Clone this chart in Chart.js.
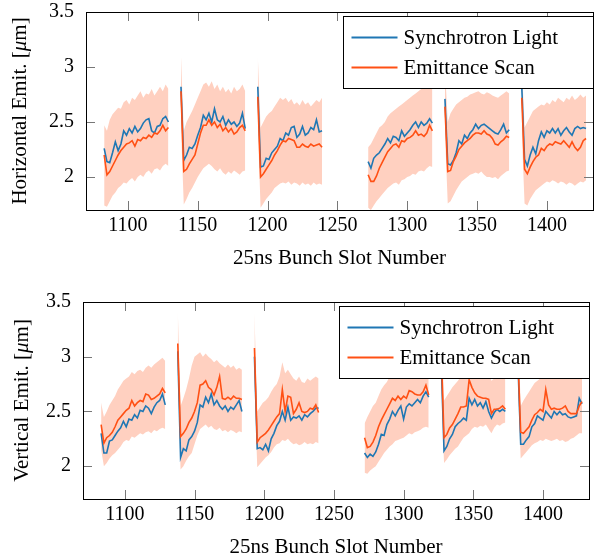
<!DOCTYPE html>
<html>
<head>
<meta charset="utf-8">
<script src="https://cdn.jsdelivr.net/npm/chart.js@4.4.1/dist/chart.umd.min.js"></script>
<style>
  html, body { margin: 0; padding: 0; background: #fff; }
  canvas { display: block; }
</style>
</head>
<body>
<canvas id="hChart" width="598" height="280"></canvas>
<canvas id="vChart" width="598" height="280"></canvas>
<script>
// bunch trains: first slot of each train, values are read every 2nd slot
const trainStarts = [1083, 1138, 1193, 1272, 1327, 1382];
const slotStep = 2;
const xTicks = [1100, 1150, 1200, 1250, 1300, 1350, 1400];
const yTicks = [2, 2.5, 3, 3.5];
const seriesNames = ['Synchrotron Light', 'Emittance Scan'];

// horizontal emittance [um]
const hSync = [
  [2.26,2.14,2.13,2.22,2.32,2.24,2.30,2.42,2.38,2.44,2.40,2.46,2.41,2.44,2.49,2.52,2.53,2.42,2.40,2.46,2.47,2.53,2.55,2.50],
  [2.82,2.15,2.20,2.27,2.26,2.30,2.38,2.45,2.56,2.52,2.58,2.50,2.62,2.52,2.50,2.55,2.47,2.52,2.48,2.50,2.46,2.49,2.58,2.44],
  [2.82,2.09,2.10,2.17,2.16,2.22,2.25,2.28,2.35,2.33,2.40,2.38,2.45,2.46,2.36,2.39,2.46,2.38,2.40,2.45,2.43,2.52,2.41,2.42],
  [2.14,2.08,2.17,2.20,2.22,2.26,2.30,2.35,2.31,2.37,2.36,2.33,2.42,2.37,2.40,2.43,2.47,2.50,2.45,2.50,2.47,2.49,2.53,2.49],
  [2.71,2.12,2.11,2.15,2.22,2.33,2.30,2.38,2.35,2.40,2.43,2.48,2.44,2.47,2.48,2.46,2.44,2.42,2.40,2.39,2.43,2.48,2.40,2.43],
  [2.82,2.16,2.10,2.20,2.27,2.21,2.33,2.41,2.36,2.42,2.40,2.44,2.40,2.44,2.38,2.42,2.45,2.41,2.38,2.44,2.46,2.44,2.45,2.44]
];
const hScan = [
  [2.20,2.02,2.05,2.10,2.15,2.20,2.24,2.27,2.30,2.31,2.33,2.28,2.34,2.33,2.36,2.35,2.38,2.36,2.40,2.39,2.42,2.47,2.42,2.45],
  [2.78,2.05,2.07,2.12,2.16,2.20,2.30,2.40,2.47,2.47,2.52,2.47,2.50,2.45,2.48,2.42,2.45,2.41,2.44,2.39,2.41,2.45,2.47,2.42],
  [2.73,2.00,2.03,2.07,2.11,2.15,2.20,2.24,2.29,2.33,2.32,2.35,2.34,2.33,2.27,2.27,2.30,2.28,2.27,2.30,2.28,2.29,2.30,2.27],
  [2.02,1.96,1.96,2.01,2.08,2.13,2.18,2.23,2.26,2.29,2.30,2.27,2.33,2.32,2.35,2.36,2.38,2.42,2.38,2.39,2.37,2.40,2.47,2.42],
  [2.64,2.05,2.06,2.14,2.19,2.25,2.28,2.31,2.33,2.35,2.38,2.40,2.40,2.39,2.42,2.39,2.38,2.35,2.30,2.29,2.32,2.34,2.37,2.36],
  [2.72,2.07,2.03,2.09,2.14,2.18,2.20,2.26,2.24,2.28,2.30,2.29,2.32,2.31,2.30,2.33,2.30,2.27,2.32,2.27,2.24,2.27,2.33,2.35]
];
const hBandHi = [
  [2.47,2.42,2.52,2.57,2.60,2.63,2.62,2.68,2.70,2.66,2.72,2.70,2.74,2.78,2.72,2.76,2.75,2.80,2.74,2.78,2.82,2.78,2.84,2.80],
  [3.10,2.42,2.50,2.55,2.60,2.66,2.72,2.78,2.84,2.86,2.82,2.87,2.80,2.84,2.78,2.82,2.77,2.80,2.76,2.82,2.78,2.80,2.84,2.78],
  [3.10,2.45,2.50,2.55,2.58,2.60,2.64,2.68,2.72,2.70,2.72,2.68,2.71,2.66,2.68,2.65,2.70,2.66,2.68,2.64,2.67,2.70,2.68,2.72],
  [2.27,2.30,2.35,2.40,2.45,2.47,2.50,2.55,2.58,2.60,2.62,2.64,2.66,2.68,2.70,2.72,2.74,2.76,2.78,2.80,2.82,2.85,2.88,2.85],
  [3.00,2.50,2.58,2.62,2.66,2.68,2.70,2.72,2.73,2.75,2.76,2.77,2.78,2.76,2.75,2.77,2.76,2.74,2.73,2.72,2.74,2.76,2.78,2.76],
  [3.05,2.45,2.50,2.55,2.60,2.62,2.64,2.66,2.65,2.68,2.66,2.70,2.68,2.72,2.70,2.68,2.72,2.70,2.74,2.70,2.72,2.75,2.72,2.74]
];
const hBandLo = [
  [1.74,1.73,1.78,1.83,1.86,1.90,1.92,1.95,1.94,1.97,1.99,1.96,2.00,2.02,2.00,2.04,2.06,2.03,2.07,2.08,2.06,2.10,2.12,2.10],
  [2.45,1.75,1.80,1.86,1.90,1.95,2.00,2.04,2.08,2.10,2.12,2.10,2.07,2.05,2.08,2.04,2.02,2.05,2.03,2.06,2.04,2.02,2.05,2.06],
  [2.45,1.72,1.76,1.80,1.83,1.86,1.90,1.92,1.94,1.95,1.94,1.96,1.93,1.95,1.94,1.92,1.95,1.93,1.94,1.92,1.95,1.93,1.94,1.93],
  [1.72,1.70,1.74,1.78,1.81,1.84,1.87,1.90,1.92,1.94,1.95,1.93,1.97,1.98,2.00,2.01,2.03,2.02,2.05,2.06,2.05,2.08,2.10,2.09],
  [2.40,1.76,1.78,1.83,1.88,1.92,1.96,1.98,2.00,2.02,2.03,2.04,2.03,2.05,2.02,2.00,2.00,1.99,2.00,1.98,2.01,2.03,2.05,2.06],
  [2.40,1.76,1.74,1.80,1.84,1.88,1.90,1.92,1.94,1.96,1.95,1.97,1.96,1.94,1.96,1.95,1.93,1.95,1.94,1.92,1.94,1.96,1.95,1.97]
];

// vertical emittance [um]
const vSync = [
  [2.30,2.12,2.12,2.23,2.24,2.28,2.32,2.35,2.41,2.36,2.43,2.42,2.47,2.44,2.51,2.50,2.55,2.53,2.48,2.54,2.58,2.60,2.66,2.56],
  [3.05,2.08,2.16,2.14,2.24,2.27,2.32,2.40,2.56,2.54,2.63,2.58,2.66,2.56,2.60,2.55,2.52,2.55,2.50,2.54,2.52,2.56,2.60,2.50],
  [3.00,2.16,2.17,2.15,2.20,2.14,2.25,2.30,2.37,2.41,2.50,2.42,2.54,2.42,2.45,2.44,2.46,2.42,2.47,2.45,2.48,2.50,2.53,2.53],
  [2.12,2.08,2.11,2.09,2.13,2.20,2.29,2.28,2.38,2.43,2.50,2.46,2.51,2.55,2.43,2.54,2.57,2.55,2.58,2.61,2.58,2.64,2.68,2.63],
  [2.95,2.14,2.18,2.25,2.29,2.36,2.39,2.41,2.44,2.42,2.62,2.56,2.61,2.55,2.58,2.53,2.59,2.50,2.44,2.49,2.52,2.50,2.52,2.50],
  [2.95,2.20,2.20,2.24,2.27,2.36,2.39,2.46,2.44,2.42,2.50,2.47,2.44,2.50,2.47,2.50,2.47,2.48,2.45,2.44,2.45,2.46,2.62,2.57]
];
const vScan = [
  [2.38,2.21,2.26,2.28,2.31,2.36,2.42,2.45,2.48,2.51,2.53,2.60,2.55,2.58,2.60,2.59,2.66,2.65,2.61,2.62,2.64,2.66,2.71,2.67],
  [3.12,2.27,2.30,2.34,2.40,2.44,2.50,2.58,2.74,2.75,2.78,2.72,2.70,2.65,2.72,2.82,2.62,2.61,2.63,2.61,2.64,2.62,2.62,2.61],
  [3.08,2.22,2.26,2.28,2.30,2.33,2.37,2.41,2.45,2.48,2.70,2.50,2.64,2.63,2.48,2.52,2.58,2.50,2.49,2.50,2.53,2.52,2.56,2.49],
  [2.26,2.17,2.18,2.22,2.28,2.36,2.42,2.47,2.52,2.57,2.62,2.60,2.64,2.61,2.64,2.62,2.69,2.68,2.66,2.65,2.65,2.68,2.74,2.65],
  [3.05,2.26,2.29,2.35,2.38,2.43,2.48,2.54,2.54,2.55,2.79,2.72,2.67,2.64,2.63,2.62,2.62,2.61,2.48,2.52,2.52,2.53,2.55,2.52],
  [3.00,2.31,2.30,2.33,2.36,2.42,2.47,2.49,2.52,2.50,2.70,2.56,2.52,2.53,2.52,2.52,2.53,2.55,2.50,2.48,2.48,2.48,2.55,2.59]
];
const vBandHi = [
  [2.58,2.45,2.50,2.56,2.60,2.64,2.70,2.74,2.78,2.80,2.82,2.86,2.84,2.87,2.88,2.86,2.90,2.92,2.90,2.93,2.95,2.97,2.99,2.96],
  [3.42,2.55,2.62,2.70,2.80,2.92,3.00,3.02,3.04,3.00,3.03,3.00,2.98,2.95,2.97,2.94,2.92,2.90,2.93,2.90,2.92,2.88,2.90,2.88],
  [3.40,2.50,2.54,2.58,2.60,2.63,2.68,2.72,2.75,2.82,2.95,2.85,2.88,2.84,2.80,2.78,2.82,2.77,2.76,2.80,2.78,2.80,2.82,2.80],
  [2.39,2.45,2.50,2.55,2.58,2.64,2.70,2.74,2.77,2.82,2.86,2.88,2.90,2.92,2.94,2.95,2.96,2.98,2.97,2.98,2.99,3.00,3.02,3.00],
  [3.35,2.60,2.64,2.68,2.72,2.75,2.78,2.82,2.84,2.86,2.95,2.92,2.90,2.88,2.88,2.86,2.87,2.85,2.78,2.80,2.82,2.83,2.84,2.83],
  [3.30,2.55,2.60,2.64,2.68,2.72,2.76,2.78,2.80,2.82,2.95,2.85,2.82,2.84,2.83,2.82,2.84,2.85,2.82,2.80,2.81,2.80,2.84,2.86]
];
const vBandLo = [
  [2.15,2.00,2.03,2.07,2.10,2.12,2.15,2.18,2.22,2.24,2.23,2.27,2.26,2.28,2.30,2.29,2.31,2.32,2.30,2.33,2.32,2.34,2.35,2.34],
  [2.80,1.97,2.00,2.05,2.09,2.12,2.20,2.28,2.34,2.36,2.38,2.35,2.37,2.34,2.33,2.35,2.32,2.33,2.31,2.33,2.32,2.30,2.32,2.31],
  [2.75,1.99,2.02,2.05,2.08,2.10,2.13,2.17,2.20,2.21,2.24,2.23,2.25,2.22,2.20,2.21,2.19,2.20,2.22,2.20,2.21,2.20,2.22,2.21],
  [1.94,1.93,1.96,1.98,2.00,2.04,2.08,2.12,2.15,2.18,2.20,2.23,2.24,2.25,2.26,2.28,2.30,2.29,2.31,2.32,2.33,2.35,2.36,2.35],
  [2.70,2.03,2.06,2.10,2.13,2.16,2.18,2.22,2.26,2.28,2.30,2.34,2.36,2.35,2.37,2.36,2.38,2.34,2.30,2.35,2.38,2.37,2.39,2.40],
  [2.70,2.07,2.10,2.13,2.16,2.19,2.21,2.22,2.24,2.23,2.25,2.24,2.23,2.24,2.25,2.23,2.24,2.22,2.23,2.25,2.26,2.28,2.30,2.30]
];

const blue = '#1f77b4';
const orange = '#ff5014';
const bandColor = 'rgb(255, 208, 192)';
const serif = 'Liberation Serif';

// one point per reading, plus a null between trains so the line breaks
function toPoints(trains) {
  const pts = [];
  trains.forEach((vals, t) => {
    vals.forEach((v, i) => pts.push({ x: trainStarts[t] + slotStep * i, y: v }));
    if (t < trains.length - 1) pts.push({ x: trainStarts[t] + slotStep * vals.length, y: null });
  });
  return pts;
}

// box, inward ticks, axis titles and the legend, pgfplots style
function framePlugin(p) {
  return {
    id: 'frame',
    afterDatasetsDraw(chart) {
      const ctx = chart.ctx;
      const ca = chart.chartArea;
      const xs = chart.scales.x, ys = chart.scales.y;
      ctx.save();

      ctx.strokeStyle = '#777';
      ctx.lineWidth = 1;
      ctx.beginPath();
      xTicks.forEach(v => {
        const px = Math.round(xs.getPixelForValue(v)) + 0.5;
        ctx.moveTo(px, ca.bottom); ctx.lineTo(px, ca.bottom - 9);
        ctx.moveTo(px, ca.top); ctx.lineTo(px, ca.top + 9);
      });
      yTicks.forEach(v => {
        const py = Math.round(ys.getPixelForValue(v)) + 0.5;
        ctx.moveTo(ca.left, py); ctx.lineTo(ca.left + 9, py);
        ctx.moveTo(ca.right, py); ctx.lineTo(ca.right - 9, py);
      });
      ctx.stroke();

      ctx.strokeStyle = '#000';
      ctx.strokeRect(Math.round(ca.left) + 0.5, Math.round(ca.top) + 0.5,
        Math.round(ca.right - ca.left), Math.round(ca.bottom - ca.top));

      // legend
      const lw = 250, lh = 72;
      const lx = Math.round(ca.right - lw) + 0.5, ly = Math.round(ca.top + 4) + 0.5;
      ctx.fillStyle = '#fff';
      ctx.fillRect(lx, ly, lw, lh);
      ctx.strokeStyle = '#000';
      ctx.strokeRect(lx, ly, lw, lh);
      ctx.font = '21px "' + serif + '"';
      ctx.textBaseline = 'middle';
      ctx.textAlign = 'left';
      [[blue, 21], [orange, 51]].forEach(([c, dy], k) => {
        ctx.strokeStyle = c;
        ctx.lineWidth = 2;
        ctx.beginPath();
        ctx.moveTo(lx + 8, ly + dy); ctx.lineTo(lx + 54, ly + dy);
        ctx.stroke();
        ctx.fillStyle = '#000';
        ctx.fillText(seriesNames[k], lx + 60, ly + dy + 1);
      });

      // x title
      ctx.fillStyle = '#000';
      ctx.textAlign = 'center';
      ctx.fillText('25ns Bunch Slot Number', (ca.left + ca.right) / 2, p.xTitleY);

      // y title with italic mu
      ctx.translate(p.yTitleX, (ca.top + ca.bottom) / 2);
      ctx.rotate(-Math.PI / 2);
      const parts = [[p.yTitle, ''], ['\u03bc', 'italic '], ['m]', '']];
      let total = 0;
      parts.forEach(([t, st]) => { ctx.font = st + '21px "' + serif + '"'; total += ctx.measureText(t).width; });
      let cx = -total / 2;
      ctx.textAlign = 'left';
      parts.forEach(([t, st]) => {
        ctx.font = st + '21px "' + serif + '"';
        ctx.fillText(t, cx, 0);
        cx += ctx.measureText(t).width;
      });
      ctx.restore();
    }
  };
}

function makeChart(id, sync, scan, hi, lo, p) {
  new Chart(document.getElementById(id), {
    type: 'line',
    data: {
      datasets: [
        { label: seriesNames[1], data: toPoints(scan), borderColor: orange, borderWidth: 1.6, fill: false },
        { label: seriesNames[0], data: toPoints(sync), borderColor: blue, borderWidth: 1.6, fill: false },
        { label: 'band hi', data: toPoints(hi), borderWidth: 0, borderColor: 'rgba(0,0,0,0)', backgroundColor: bandColor, fill: '+1' },
        { label: 'band lo', data: toPoints(lo), borderWidth: 0, borderColor: 'rgba(0,0,0,0)', fill: false }
      ]
    },
    options: {
      responsive: false,
      animation: false,
      devicePixelRatio: 1,
      spanGaps: false,
      layout: { padding: { top: p.top, right: p.right, left: 0, bottom: 0 } },
      elements: { point: { radius: 0 }, line: { tension: 0 } },
      plugins: { legend: { display: false }, tooltip: { enabled: false } },
      scales: {
        x: {
          type: 'linear', min: 1070, max: 1433,
          grid: { display: false, drawTicks: false },
          border: { display: false },
          ticks: { color: '#000', padding: 4, font: { family: serif, size: 20 }, callback: v => String(v) },
          afterBuildTicks: s => { s.ticks = xTicks.map(v => ({ value: v })); },
          afterFit: s => { s.height = p.xHeight; s.paddingLeft = 0; s.paddingRight = 0; }
        },
        y: {
          type: 'linear', min: 1.7, max: 3.5,
          grid: { display: false, drawTicks: false },
          border: { display: false },
          ticks: { color: '#000', padding: 12, font: { family: serif, size: 20 }, callback: v => String(v) },
          afterBuildTicks: s => { s.ticks = yTicks.map(v => ({ value: v })); },
          afterFit: s => { s.width = p.yWidth; s.paddingTop = 0; s.paddingBottom = 0; }
        }
      }
    },
    plugins: [framePlugin(p)]
  });
}

makeChart('hChart', hSync, hScan, hBandHi, hBandLo,
  { top: 12, right: 5, xHeight: 70, yWidth: 86, xTitleY: 258, yTitleX: 20, yTitle: 'Horizontal Emit. [' });
makeChart('vChart', vSync, vScan, vBandHi, vBandLo,
  { top: 22, right: 9, xHeight: 61, yWidth: 83, xTitleY: 267, yTitleX: 22, yTitle: 'Vertical Emit. [' });
</script>
</body>
</html>
